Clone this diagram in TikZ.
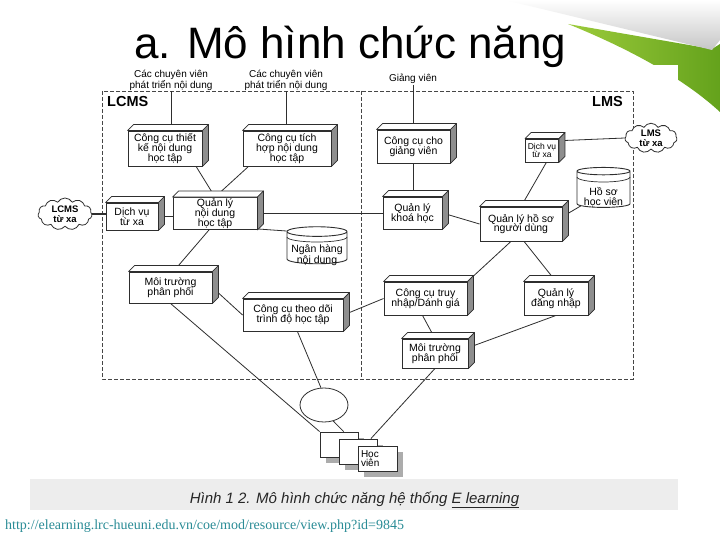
\documentclass[tikz,border=0pt]{standalone}
\usepackage{fontspec}
\setmainfont{Liberation Sans}
\newfontfamily\urlfont{Liberation Serif}
\usetikzlibrary{shapes.geometric,shapes.symbols,shadows,calc}
\pgfdeclarelayer{back}
\pgfdeclarelayer{links}
\pgfsetlayers{back,links,main}
\definecolor{SlideGreen}{HTML}{64A21C}
\definecolor{SlideGreenLight}{HTML}{9CCB3B}
\definecolor{CapBand}{HTML}{EDEDED}
\definecolor{UrlTeal}{HTML}{2A8C96}
\definecolor{DiagLine}{HTML}{2E2E2E}
\definecolor{FaceGray}{HTML}{8E8E8E}
\newcommand{\boxfont}{\fontsize{10.5}{9.8}\selectfont\lineskiplimit=-20pt\relax}
\newcommand{\lowtext}[2]{\raisebox{#1}[0pt][0pt]{\begin{tabular}[b]{@{}c@{}}#2\end{tabular}}}
\tikzset{
  unit/.style={draw=DiagLine, fill=white, line width=0.9pt, align=center,
    inner sep=1pt, font=\boxfont,
    execute at begin node={\rule{0pt}{15pt}}},
  face/.style={draw=DiagLine, line width=0.7pt, line join=round},
  link/.style={DiagLine, line width=0.8pt},
  store/.style={cylinder, shape border rotate=90, aspect=0.18, draw=DiagLine,
    fill=white, line width=0.9pt, inner sep=1pt,
    font=\fontsize{10.5}{9.8}\selectfont},
  remote/.style={cloud, cloud puffs=11, cloud puff arc=120, aspect=2,
    draw=DiagLine, fill=white, line width=0.8pt, align=center, inner sep=0pt,
    font=\fontsize{9.5}{9.5}\selectfont\bfseries},
  who/.style={align=center, inner sep=1pt, font=\fontsize{10}{10}\selectfont},
  sheet/.style={draw=DiagLine, fill=white, line width=0.8pt,
    minimum width=38pt, minimum height=25pt,
    drop shadow={shadow xshift=6pt, shadow yshift=-6pt, fill=gray!65, opacity=1}},
  frame/.style={gray!55!black, line width=0.8pt, dash pattern=on 4pt off 2pt}
}
\begin{document}
\begin{tikzpicture}[x=1pt,y=-1pt]
  \useasboundingbox (0,0) rectangle (720,540);

  % slide background, page curl, picture area
  \begin{pgfonlayer}{back}
    \fill[white] (0,0) rectangle (720,540);
    \shade[left color=SlideGreenLight, right color=SlideGreen]
      (568,24) -- (712,49) -- (720,44) -- (720,112)
      .. controls (680,75) and (620,45) .. (568,24) -- cycle;
    \shade[top color=white, bottom color=gray!45]
      (505,0) -- (720,0) -- (720,40) -- (712,50) -- cycle;
    \fill[white] (30,65) rectangle (678,479);
    \fill[CapBand] (30,479) rectangle (678,510);
    \draw[frame] (102,91) rectangle (633,379);
    \draw[frame] (361,91) -- (361,379);
  \end{pgfonlayer}

  \node[anchor=base west, inner sep=0,
    font=\fontsize{44}{44}\selectfont] (title) at (134,59) {a. Mô hình chức năng};

  \node[anchor=base west, inner sep=0,
    font=\fontsize{14.5}{14.5}\selectfont\bfseries] (lcms) at (107,107) {LCMS};
  \node[anchor=base east, inner sep=0,
    font=\fontsize{14.5}{14.5}\selectfont\bfseries] (lms) at (623,107) {LMS};

  % actors
  \node[who] (cv1) at (171,80) {Các chuyên viên\\phát triển nội dung};
  \node[who] (cv2) at (286,80) {Các chuyên viên\\phát triển nội dung};
  \node[who] (gvl) at (413,79) {Giảng viên};

  % LCMS side
  \node[unit, minimum width=74pt, minimum height=35pt] (tk) at (165,148.5)
    {Công cụ thiết\\kế nội dung\\học tập};
  \node[unit, minimum width=88pt, minimum height=35pt] (th) at (287,148.5)
    {Công cụ tích\\hợp nội dung\\học tập};
  \node[unit, minimum width=52pt, minimum height=27pt] (dvc) at (132,216.5)
    {Dịch vụ\\từ xa};
  \node[unit, minimum width=84pt, minimum height=32pt] (ql) at (215,213.5)
    {Quản lý\\nội dung\\học tập};
  \node[unit, minimum width=83pt, minimum height=31pt] (mtc) at (170.5,287.5)
    {Môi trường\\phân phối};
  \node[unit, minimum width=100pt, minimum height=32pt] (td) at (293,315)
    {Công cụ theo dõi\\trình độ học tập};
  \node[store, minimum width=60pt, minimum height=37pt] (nh) at (317,248.5)
    {\lowtext{-15pt}{Ngân hàng\\nội dung}};
  \node[remote, minimum width=54pt, minimum height=32pt] (lc) at (65,214)
    {LCMS\\từ xa};

  % LMS side
  \node[unit, minimum width=73pt, minimum height=33pt] (gv) at (413.5,146.5)
    {Công cụ cho\\giảng viên};
  \node[unit, minimum width=33pt, minimum height=23pt,
    font=\fontsize{8.5}{8.5}\selectfont,
    execute at begin node={\rule{0pt}{11pt}}] (dvl) at (542,150.5) {Dịch vụ\\từ xa};
  \node[unit, minimum width=59pt, minimum height=32pt] (kh) at (412.5,213)
    {Quản lý\\khoá học};
  \node[unit, minimum width=82pt, minimum height=34pt] (hs) at (521,224)
    {Quản lý hồ sơ\\người dùng};
  \node[unit, minimum width=83pt, minimum height=33pt] (tn) at (425.5,298.5)
    {Công cụ truy\\nhập/Dánh giá};
  \node[unit, minimum width=64pt, minimum height=33pt] (dn) at (556,298.5)
    {Quản lý\\đăng nhập};
  \node[unit, minimum width=66pt, minimum height=29pt] (mtl) at (435,353.5)
    {Môi trường\\phân phối};
  \node[store, minimum width=53pt, minimum height=40pt] (hv) at (603.5,190)
    {\lowtext{-16pt}{Hồ sơ\\học viên}};
  \node[remote, minimum width=52pt, minimum height=26pt] (lm) at (651,138)
    {LMS\\từ xa};

  % learners
  \node[ellipse, draw=DiagLine, fill=white, line width=0.8pt,
    minimum width=48pt, minimum height=34pt] (ci) at (324,405) {};
  \node[sheet] (p1) at (339,444.5) {};
  \node[sheet] (p2) at (358,451.5) {};
  \node[sheet, align=left, text width=33pt, inner sep=3pt,
    font=\fontsize{10}{9.6}\selectfont] (p3) at (377.5,458.5) {Học\\viên};

  % box depth
  \foreach \n in {tk,th,dvc,ql,mtc,td,gv,dvl,kh,hs,tn,dn,mtl}{
    \draw[face, fill=white] (\n.north west) -- ++(6,-6)
      -- ([shift={(6,-6)}]\n.north east) -- (\n.north east) -- cycle;
    \draw[face, fill=FaceGray] (\n.north east) -- ++(6,-6)
      -- ([shift={(6,-6)}]\n.south east) -- (\n.south east) -- cycle;
  }
  % inner rings of the stores
  \draw[DiagLine, line width=0.7pt] (287,237) arc[start angle=180, end angle=360,
    x radius=30pt, y radius=5pt];
  \draw[DiagLine, line width=0.7pt] (577,177) arc[start angle=180, end angle=360,
    x radius=26.5pt, y radius=5pt];

  \begin{pgfonlayer}{links}
    \draw[link] (cv1.south) -- (cv1.south |- tk.north);
    \draw[link] (cv2.south) -- (cv2.south |- th.north);
    \draw[link] (gvl.south) -- (gvl.south |- gv.north);
    \draw[link] (tk.-30) -- (ql.north);
    \draw[link] (th.-155) -- (ql.north);
    \draw[link] (gv.south) -- (gv.south |- kh.north);
    \draw[link] (ql.east) -- (ql.east -| kh.west);
    \draw[link] (dvc.east) -- (dvc.east -| ql.west);
    \draw[DiagLine, line width=1.8pt] (lc.east) -- (lc.east -| dvc.west);
    \draw[link] (ql.-20) -- (nh.150);
    \draw[link] (ql.-110) -- (mtc.80);
    \draw[link] (mtc.east) -- (td.west);
    \draw[link] (td.east) -- (tn.west);
    \draw[link] (kh.east) -- (hs.west);
    \draw[link] (dvl.-70) -- (hs.north);
    \draw[link] (dvl.30) -- (lm.west);
    \draw[link] (hs.10) -- (hv.-145);
    \draw[link] (hs.-120) -- (tn.north east);
    \draw[link] (hs.-80) -- (dn.north);
    \draw[link] (tn.-100) -- (mtl.north);
    \draw[link] (dn.south) -- (mtl.10);
    \draw[link] (mtl.south) -- (p2.45);
    \draw[link] (mtc.south) -- (p1.north west);
    \draw[link] (td.-75) -- (ci.100);
    \draw[link] (ci.-60) -- (p1.70);
  \end{pgfonlayer}

  \node[anchor=base, inner sep=0, text=black!85,
    font=\fontsize{15}{15}\selectfont\itshape] (cap) at (354.5,503)
    {Hình 1 2. Mô hình chức năng hệ thống \underline{E learning}};
  \node[anchor=base west, inner sep=0, text=UrlTeal,
    font=\urlfont\fontsize{14}{14}\selectfont] (url) at (5,529)
    {http://elearning.lrc-hueuni.edu.vn/coe/mod/resource/view.php?id=9845};
\end{tikzpicture}
\end{document}
